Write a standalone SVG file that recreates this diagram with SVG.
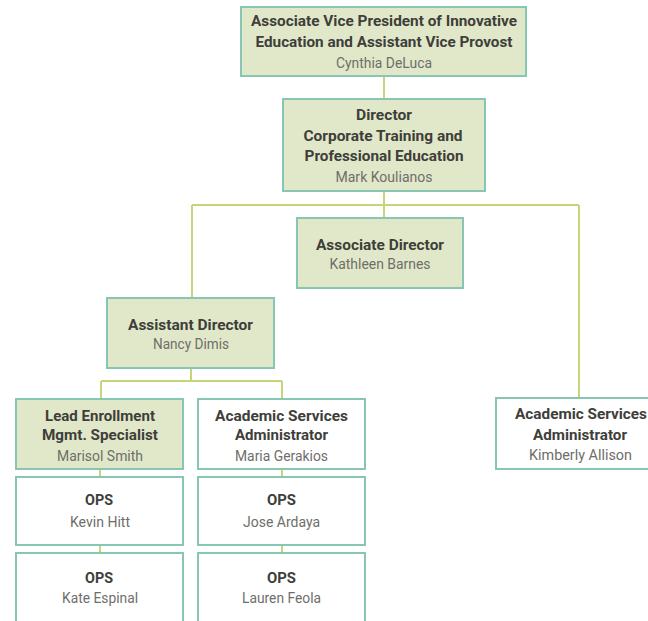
<svg xmlns="http://www.w3.org/2000/svg" width="648" height="621" viewBox="0 0 648 621">
<style>
.box{stroke:#86c6b2;stroke-width:2}
.g{fill:#e1e8c9}
.w{fill:#ffffff}
.t{font-family:Roboto,"Liberation Sans",sans-serif;font-weight:bold;font-size:15.5px;fill:#3e3e3a;text-anchor:middle}
.n{font-family:Roboto,"Liberation Sans",sans-serif;font-size:14px;fill:#6e6e6a;text-anchor:middle}
.c{stroke:#c6d578;stroke-width:2;fill:none}
</style>
<rect width="648" height="621" fill="#ffffff"/>
<g id="connectors" class="c">
<path d="M384 76V99M384 191V218M192 205H579M192 205V298M579 205V398M191 368V381M101 381H282M101 381V399M282 381V399M100 469V477M100 545V553M282 469V477M282 545V553"/>
</g>
<g id="avp">
<rect class="box g" x="241" y="7" width="285" height="69"/>
<text class="t" x="384" y="25.5" textLength="266" lengthAdjust="spacingAndGlyphs">Associate Vice President of Innovative</text>
<text class="t" x="384" y="46.5" textLength="257" lengthAdjust="spacingAndGlyphs">Education and Assistant Vice Provost</text>
<text class="n" x="384" y="68" textLength="96" lengthAdjust="spacingAndGlyphs">Cynthia DeLuca</text>
</g>
<g id="director">
<rect class="box g" x="283" y="99" width="202" height="92"/>
<text class="t" x="384" y="120" textLength="56" lengthAdjust="spacingAndGlyphs">Director</text>
<text class="t" x="383" y="141" textLength="159" lengthAdjust="spacingAndGlyphs">Corporate Training and</text>
<text class="t" x="384" y="161" textLength="159" lengthAdjust="spacingAndGlyphs">Professional Education</text>
<text class="n" x="384" y="182" textLength="97" lengthAdjust="spacingAndGlyphs">Mark Koulianos</text>
</g>
<g id="assoc-director">
<rect class="box g" x="297" y="218" width="166" height="70"/>
<text class="t" x="380" y="250" textLength="128" lengthAdjust="spacingAndGlyphs">Associate Director</text>
<text class="n" x="380" y="269" textLength="101" lengthAdjust="spacingAndGlyphs">Kathleen Barnes</text>
</g>
<g id="asst-director">
<rect class="box g" x="107" y="298" width="167" height="70"/>
<text class="t" x="190.5" y="330" textLength="125" lengthAdjust="spacingAndGlyphs">Assistant Director</text>
<text class="n" x="191" y="349" textLength="76" lengthAdjust="spacingAndGlyphs">Nancy Dimis</text>
</g>
<g id="lead-enrollment">
<rect class="box g" x="16" y="399" width="167" height="70"/>
<text class="t" x="100" y="421" textLength="110" lengthAdjust="spacingAndGlyphs">Lead Enrollment</text>
<text class="t" x="100" y="440" textLength="116" lengthAdjust="spacingAndGlyphs">Mgmt. Specialist</text>
<text class="n" x="100" y="461" textLength="86" lengthAdjust="spacingAndGlyphs">Marisol Smith</text>
</g>
<g id="asa-maria">
<rect class="box w" x="198" y="399" width="167" height="70"/>
<text class="t" x="281.5" y="421" textLength="133" lengthAdjust="spacingAndGlyphs">Academic Services</text>
<text class="t" x="281.5" y="440" textLength="93" lengthAdjust="spacingAndGlyphs">Administrator</text>
<text class="n" x="281.5" y="461" textLength="93" lengthAdjust="spacingAndGlyphs">Maria Gerakios</text>
</g>
<g id="asa-kimberly">
<rect class="box w" x="496" y="398" width="167" height="71"/>
<text class="t" x="581" y="419" textLength="132" lengthAdjust="spacingAndGlyphs">Academic Services</text>
<text class="t" x="580" y="440" textLength="94" lengthAdjust="spacingAndGlyphs">Administrator</text>
<text class="n" x="580.5" y="460" textLength="103" lengthAdjust="spacingAndGlyphs">Kimberly Allison</text>
</g>
<g id="ops-kevin">
<rect class="box w" x="16" y="477" width="167" height="68"/>
<text class="t" x="99" y="505" textLength="28" lengthAdjust="spacingAndGlyphs">OPS</text>
<text class="n" x="100" y="527" textLength="60" lengthAdjust="spacingAndGlyphs">Kevin Hitt</text>
</g>
<g id="ops-jose">
<rect class="box w" x="198" y="477" width="167" height="68"/>
<text class="t" x="281.5" y="505" textLength="29" lengthAdjust="spacingAndGlyphs">OPS</text>
<text class="n" x="281.5" y="527" textLength="77" lengthAdjust="spacingAndGlyphs">Jose Ardaya</text>
</g>
<g id="ops-kate">
<rect class="box w" x="16" y="553" width="167" height="72"/>
<text class="t" x="99" y="583" textLength="28" lengthAdjust="spacingAndGlyphs">OPS</text>
<text class="n" x="100" y="603" textLength="76" lengthAdjust="spacingAndGlyphs">Kate Espinal</text>
</g>
<g id="ops-lauren">
<rect class="box w" x="198" y="553" width="167" height="72"/>
<text class="t" x="281.5" y="583" textLength="29" lengthAdjust="spacingAndGlyphs">OPS</text>
<text class="n" x="281.5" y="603" textLength="79" lengthAdjust="spacingAndGlyphs">Lauren Feola</text>
</g>
</svg>
